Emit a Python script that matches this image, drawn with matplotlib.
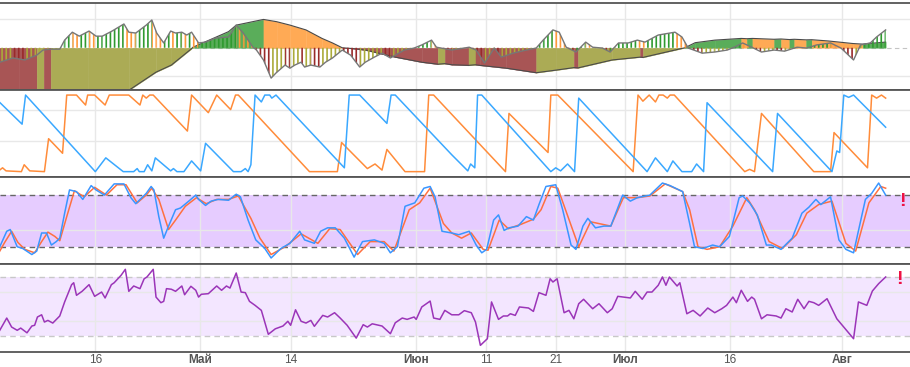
import numpy as np
import matplotlib
matplotlib.use("Agg")
import matplotlib.pyplot as plt

plt.rcParams["font.family"] = ["Liberation Sans", "DejaVu Sans"]
plt.rcParams["hatch.linewidth"] = 1.2

# x values are days counted from this date
BASE = np.datetime64("2019-04-01")
X_RANGE = ("2019-04-02T08", "2019-08-10T19")

TICK_DATES = ["2019-04-16", "2019-05-01", "2019-05-14", "2019-06-01", "2019-06-11",
              "2019-06-21", "2019-07-01", "2019-07-16", "2019-08-01"]
TICK_LABELS = ["16", "Май", "14", "Июн", "11", "21", "Июл", "16", "Авг"]
MONTHS = ["Май", "Июн", "Июл", "Авг"]

# panel 1: striped histogram and filled signal, (day, value)
HIST = [(1.3, -0.51), (3.2, -0.36), (4.9, -0.43), (6.6, -0.26), (7.5, -0.08), (8.5, -0.05),
        (9.9, -0.05), (10.6, 0.27), (11.7, 0.55), (12.7, 0.41), (14.1, 0.59), (15.1, 0.41),
        (16.0, 0.41), (17.4, 0.59), (19.1, 0.84), (19.8, 0.55), (20.8, 0.52), (22.3, 0.80),
        (23.1, 0.98), (23.8, 0.52), (24.8, 0.17), (25.8, 0.59), (26.5, 0.52), (27.4, 0.55),
        (28.1, 0.45), (28.8, 0.55), (29.8, 0.17), (30.8, 0.20), (32.2, 0.34), (34.1, 0.38),
        (35.2, 0.80), (36.2, 0.52), (37.6, 0.02), (38.1, -0.08), (39.1, -0.43), (40.2, -1.07),
        (40.9, -0.89), (42.2, -0.61), (42.9, -0.72), (43.6, -0.61), (44.5, -0.51), (45.0, -0.68),
        (45.9, -0.61), (47.2, -0.68), (48.0, -0.51), (49.0, -0.36), (50.4, -0.08), (51.6, -0.26),
        (52.9, -0.68), (53.7, -0.51), (55.0, -0.33), (56.1, -0.19), (57.3, -0.36), (58.0, -0.26),
        (59.3, -0.08), (60.7, -0.01), (61.8, 0.10), (63.2, 0.27), (63.9, 0.02), (66.1, -0.08),
        (68.6, 0.02), (69.6, -0.08), (70.8, -0.54), (72.2, -0.01), (73.2, -0.33), (74.9, -0.19),
        (76.8, -0.08), (78.2, -0.01), (79.2, 0.27), (80.6, 0.63), (81.5, 0.55), (82.5, 0.02),
        (83.9, -0.15), (85.3, 0.20), (86.3, 0.02), (87.7, -0.01), (88.8, -0.15), (90.0, 0.17),
        (91.4, 0.17), (92.7, 0.27), (93.8, 0.20), (95.7, 0.45), (98.1, 0.55), (99.1, 0.38),
        (100.0, -0.01), (102.0, -0.19), (103.8, -0.15), (105.6, -0.08), (106.6, 0.02),
        (107.8, 0.17), (109.1, 0.02), (110.5, -0.15), (112.3, -0.08), (113.8, -0.12),
        (115.6, 0.02), (117.0, -0.01), (118.4, 0.10), (120.4, 0.17), (121.9, -0.01),
        (123.7, -0.43), (124.7, 0.10), (126.1, 0.17), (127.0, 0.38), (128.3, 0.63)]

SIGNAL = [(1.0, -2.9), (4.0, -3.0), (6.6, -3.15), (7.6, -3.1), (8.6, -3.2), (14.0, -2.4),
          (19.8, -1.5), (23.7, -0.86), (25.9, -0.61), (28.7, -0.05), (29.0, 0.02), (34.1, 0.57),
          (35.2, 0.8), (39.1, 1.0), (41.0, 0.92), (42.9, 0.8), (45.2, 0.63), (47.5, 0.33),
          (49.0, 0.17), (50.4, 0.0), (51.5, -0.02), (53.7, -0.08), (58.0, -0.33), (61.8, -0.51),
          (64.1, -0.58), (65.1, -0.56), (66.1, -0.6), (68.5, -0.62), (69.5, -0.6), (70.1, -0.62),
          (73.9, -0.72), (78.2, -0.88), (81.0, -0.79), (83.6, -0.70), (84.2, -0.71), (89.1, -0.43),
          (93.1, -0.33), (93.5, -0.34), (98.1, -0.08), (99.5, 0.0), (101.0, 0.18), (103.8, 0.27),
          (107.6, 0.33), (108.4, 0.32), (109.2, 0.33), (112.3, 0.30), (113.3, 0.31), (114.5, 0.29),
          (115.2, 0.30), (116.9, 0.28), (117.7, 0.285), (120.1, 0.24), (123.6, 0.15), (125.0, 0.13),
          (125.8, 0.15), (128.3, 0.2)]

# panel 2: aroon up / down
AROON_UP = [(1, 0), (1.7, 5), (2.2, 1), (4.4, 0), (4.8, 9), (5.6, 1), (7.7, 0), (8.3, 43),
            (10.3, 24), (10.9, 100), (12.3, 100), (13.6, 87), (13.9, 100), (14.9, 100), (16.4, 87),
            (17, 100), (19.8, 100), (21.4, 87), (21.8, 100), (22.3, 96), (22.8, 100), (23.3, 100),
            (28.2, 53), (28.8, 100), (31.2, 77), (32.4, 100), (34.4, 81), (35.1, 100), (35.5, 100),
            (45.7, 0), (49.7, 0), (50.3, 38), (54.0, 4), (55.1, 10), (56.1, 2), (56.8, 29),
            (59.4, 0), (62.2, 0), (62.8, 100), (63.5, 100), (73.8, 0), (74.3, 76), (79.9, 25),
            (80.3, 100), (81.3, 100), (92.1, 0), (92.8, 100), (93.5, 92), (94.4, 100), (95.3, 91),
            (95.8, 100), (96.4, 100), (97.0, 96), (97.4, 100), (98.0, 100), (108.1, 0), (108.8, 3),
            (109.5, 0), (110.5, 76), (118.0, 0), (120.4, 0), (120.9, 51), (125.7, 5), (126.3, 100),
            (127.0, 96), (127.7, 100), (128.3, 96)]

AROON_DN = [(1.0, 93), (4.5, 62), (5.0, 100), (15.0, 0), (16.5, 18), (19.0, 0), (20.5, 0),
            (21.0, 4), (21.3, 0), (22.0, 0), (22.5, 9), (23.1, 1), (23.6, 18), (25.8, 1), (26.2, 4),
            (26.7, 0), (27.7, 0), (28.8, 14), (30.1, 1), (30.8, 37), (34.8, 0), (35.9, 0),
            (36.5, 4), (36.9, 0), (37.3, 9), (37.9, 100), (38.8, 91), (39.3, 100), (40.0, 100),
            (40.3, 96), (40.9, 100), (50.7, 5), (51.4, 100), (52.9, 100), (56.8, 63), (57.4, 100),
            (58.0, 100), (66.1, 22), (68.4, 1), (68.8, 10), (69.4, 5), (69.8, 100), (70.4, 100),
            (80.3, 0), (81.0, 5), (81.7, 1), (82.7, 10), (83.7, 0), (84.3, 96), (94.1, 0),
            (95.3, 18), (97.0, 0), (97.8, 14), (99.1, 0), (100.5, 0), (101.2, 10), (102.2, 0),
            (102.7, 90), (112.1, 0), (112.8, 76), (120.6, 0), (121.3, 27), (121.7, 25),
            (122.3, 100), (123.0, 97), (123.7, 100), (128.3, 58)]

# panel 3: stochastic %K / %D
STOCH_K = [(1.3, 20), (2.3, 38), (2.8, 40), (3.8, 20), (4.6, 18), (5.9, 11), (6.6, 15), (7.3, 36),
           (8.0, 36), (8.7, 22), (9.4, 26), (9.9, 30), (10.6, 59), (11.3, 86), (12.3, 84),
           (13.2, 75), (14.4, 91), (15.1, 86), (16.3, 80), (17.7, 93), (19.1, 93), (20.1, 77),
           (20.8, 70), (22.3, 82), (23.0, 90), (23.4, 86), (24.1, 55), (24.8, 30), (25.5, 44),
           (26.5, 63), (27.2, 65), (28.4, 73), (29.4, 80), (29.8, 75), (30.8, 68), (31.6, 73),
           (32.6, 75), (34.1, 74), (35.2, 81), (35.8, 78), (36.9, 51), (38.0, 28), (39.3, 18),
           (40.2, 7), (41.6, 18), (42.9, 24), (44.3, 38), (45.0, 28), (46.4, 24), (47.3, 38),
           (48.3, 42), (49.4, 42), (50.7, 30), (52.1, 8), (53.3, 26), (55.0, 28), (56.4, 24),
           (57.3, 13), (58.3, 20), (59.4, 67), (60.8, 71), (62.1, 88), (63.0, 90), (63.7, 78),
           (64.7, 38), (66.1, 36), (67.1, 34), (68.6, 38), (69.6, 22), (70.4, 13), (71.1, 17),
           (72.1, 51), (72.8, 57), (73.6, 39), (74.3, 42), (75.6, 44), (76.8, 55), (77.8, 51),
           (78.6, 69), (79.6, 90), (81.0, 92), (82.0, 63), (83.2, 22), (83.9, 17), (84.9, 44),
           (85.6, 53), (86.7, 42), (87.9, 44), (88.9, 44), (89.8, 63), (90.6, 80), (91.7, 73),
           (92.7, 77), (94.5, 80), (96.3, 94), (97.4, 91), (99.2, 84), (100.2, 47), (100.9, 20),
           (102.1, 18), (103.5, 22), (104.5, 20), (105.9, 32), (107.3, 77), (107.8, 79),
           (108.8, 71), (109.9, 57), (111.2, 22), (111.9, 22), (113.3, 17), (114.9, 30),
           (116.3, 59), (117.3, 66), (118.3, 75), (119.0, 69), (120.4, 78), (121.6, 28),
           (122.6, 17), (123.7, 13), (125.4, 75), (126.3, 82), (127.3, 94), (128.3, 80)]

STOCH_D = [(1.3, 15), (2.0, 25), (3.0, 38), (3.9, 25), (4.9, 17), (6.3, 13), (7.3, 26), (8.2, 37),
           (9.2, 32), (9.9, 27), (10.9, 55), (12.0, 85), (13.4, 78), (14.9, 89), (16.6, 80),
           (18.1, 92), (19.4, 92), (21.0, 71), (22.3, 80), (23.1, 88), (24.1, 75), (25.5, 40),
           (26.5, 51), (27.9, 67), (29.5, 77), (30.9, 70), (32.4, 75), (34.1, 75), (35.5, 79),
           (37.3, 53), (38.6, 30), (40.2, 11), (42.2, 20), (44.5, 35), (46.9, 24), (48.6, 41),
           (50.1, 40), (52.6, 11), (54.4, 26), (56.4, 26), (57.8, 15), (60.0, 63), (61.5, 71),
           (63.0, 88), (64.9, 47), (66.1, 36), (67.5, 30), (68.9, 36), (70.6, 17), (71.3, 16),
           (72.9, 51), (74.2, 41), (76.0, 46), (77.8, 52), (78.9, 63), (80.3, 90), (81.3, 88),
           (84.3, 20), (86.0, 49), (88.9, 44), (90.7, 77), (92.7, 77), (94.5, 79), (96.7, 93),
           (99.2, 84), (100.2, 63), (101.4, 20), (102.7, 17), (104.5, 20), (106.4, 44),
           (108.4, 77), (109.5, 63), (111.6, 26), (113.5, 18), (115.5, 34), (117.0, 59),
           (118.7, 69), (120.6, 73), (122.6, 24), (124.0, 15), (125.9, 71), (127.6, 90), (128.3, 88)]

# panel 4: rsi
RSI = [(1.3, 33.9), (2.3, 42.2), (3.0, 36.1), (3.8, 33.9), (4.3, 35.4), (5.2, 32.2), (5.9, 36.8),
       (6.3, 37.3), (6.7, 42.9), (7.3, 44.4), (7.7, 39.5), (8.2, 40.6), (8.9, 38.8), (9.5, 41.7),
       (9.9, 43.6), (10.6, 53.1), (11.6, 64.8), (11.9, 66.1), (12.3, 57.6), (13.1, 60.3),
       (14.1, 64.8), (14.9, 56.9), (15.9, 59.8), (16.4, 55.8), (17.3, 64.8), (17.7, 66.1),
       (18.7, 71.2), (19.3, 75.2), (19.8, 60.3), (20.5, 63.9), (21.4, 62.1), (22.0, 68.8),
       (22.4, 70.0), (23.3, 75.2), (23.7, 56.4), (24.4, 52.6), (24.8, 53.5), (25.2, 62.1),
       (25.9, 61.7), (26.5, 60.3), (27.4, 63.9), (27.8, 58.0), (28.7, 63.7), (29.4, 61.0),
       (29.8, 56.4), (30.2, 58.3), (31.2, 58.7), (32.4, 63.9), (33.1, 61.0), (33.8, 63.9),
       (34.3, 62.5), (35.2, 72.7), (35.9, 59.8), (36.5, 59.4), (37.1, 53.5), (37.9, 50.8),
       (38.8, 47.4), (39.8, 31.2), (40.8, 34.9), (41.9, 36.8), (42.6, 40.0), (43.0, 37.3),
       (43.7, 47.8), (44.5, 40.0), (45.2, 38.8), (45.9, 40.6), (46.4, 36.6), (47.6, 44.0),
       (48.3, 42.9), (49.3, 45.8), (50.1, 42.2), (51.1, 37.3), (52.4, 28.6), (53.4, 37.7),
       (54.0, 36.1), (54.7, 38.3), (56.1, 36.8), (57.3, 31.6), (58.0, 39.0), (59.0, 42.2),
       (59.7, 41.3), (60.7, 42.9), (61.0, 41.3), (61.8, 49.7), (63.0, 53.7), (63.5, 42.2),
       (64.4, 41.3), (65.1, 47.4), (66.1, 44.4), (67.1, 44.4), (67.9, 47.2), (68.9, 45.8),
       (69.5, 39.5), (70.2, 23.7), (71.2, 28.2), (71.8, 53.1), (72.8, 41.3), (73.5, 43.6),
       (74.1, 43.6), (74.5, 45.1), (75.2, 44.0), (75.8, 49.7), (77.1, 49.0), (77.8, 46.7),
       (78.6, 59.4), (79.6, 57.6), (80.2, 68.8), (80.6, 66.6), (81.2, 68.8), (82.2, 45.8),
       (82.9, 47.4), (83.6, 41.7), (84.3, 51.9), (85.0, 54.9), (86.3, 48.5), (87.2, 51.9),
       (88.4, 45.8), (89.1, 48.5), (89.9, 56.9), (91.7, 55.8), (92.4, 60.3), (93.4, 54.9),
       (94.1, 59.8), (94.8, 59.8), (95.7, 64.4), (96.3, 70.0), (96.8, 64.4), (97.3, 70.0),
       (98.4, 63.9), (98.8, 66.1), (99.8, 45.1), (100.7, 47.4), (101.7, 43.6), (102.8, 49.0),
       (103.8, 45.8), (104.8, 48.5), (105.5, 50.8), (106.4, 56.4), (106.9, 52.6), (107.6, 61.0),
       (108.5, 53.5), (109.1, 56.4), (109.5, 54.9), (110.5, 41.7), (111.3, 44.4), (112.6, 43.6),
       (113.3, 42.2), (114.0, 48.5), (114.9, 46.3), (115.7, 54.9), (116.6, 48.5), (117.3, 53.5),
       (118.0, 52.6), (118.7, 50.8), (119.9, 55.3), (121.3, 41.7), (122.3, 36.1), (123.7, 28.2),
       (124.4, 53.1), (125.6, 50.8), (126.4, 60.5), (127.3, 65.5), (128.3, 70.0)]


def day(s):
    return (np.datetime64(s, "h") - BASE) / np.timedelta64(1, "D")


def split(pairs):
    d, v = zip(*pairs)
    return np.array(d), np.array(v)


FILL_PAL = {"rise+": "#5aad5a", "fall+": "#ffaa55", "fall-": "#a85555", "rise-": "#abab55"}
HATCH_PAL = {"rise+": "#2f9a2f", "fall+": "#ff9a3a", "fall-": "#992a2a", "rise-": "#abab3a"}


def trend_key(v0, v1):
    side = "+" if (v0 + v1) >= 0 else "-"
    if side == "+":
        return ("rise" if v1 >= v0 else "fall") + side
    return ("fall" if v1 < v0 else "rise") + side


fig = plt.figure(figsize=(9.1, 3.67), dpi=100)
H = 367.0
bounds = [(3, 90), (90, 177), (177, 264), (264, 352)]
axes = [fig.add_axes([0, 1 - b / H, 1, (b - t) / H]) for t, b in bounds]

xlim = (day(X_RANGE[0]), day(X_RANGE[1]))
ticks = [day(t) for t in TICK_DATES]
for ax in axes:
    ax.set_xlim(*xlim)
    ax.set_xticks(ticks)
    ax.grid(True, color="#e8e8e8", lw=1)
    ax.set_axisbelow(True)
    ax.tick_params(length=0, labelleft=False, labelbottom=False)
    for side in ("left", "right"):
        ax.spines[side].set_visible(False)
    for side in ("top", "bottom"):
        ax.spines[side].set_color("#555555")
        ax.spines[side].set_linewidth(1.3)

# panel 1
ax = axes[0]
ax.set_ylim(-1.49, 1.58)
ax.set_yticks([-1, 1])
sd, sv = split(SIGNAL)
for i in range(len(sd) - 1):
    c = FILL_PAL[trend_key(sv[i], sv[i + 1])]
    ax.fill_between(sd[i:i + 2], 0, sv[i:i + 2], color=c, lw=0.3, zorder=1)
ax.plot(sd, sv, color="#4a4a4a", lw=0.8, zorder=2)
hd, hv = split(HIST)
for i in range(len(hd) - 1):
    c = HATCH_PAL[trend_key(hv[i], hv[i + 1])]
    ax.fill_between(hd[i:i + 2], 0, hv[i:i + 2], facecolor="none", edgecolor=c,
                    hatch="||||", lw=0, zorder=3)
ax.axhline(0, color="#c4c4c4", lw=0.8, ls=(0, (4, 3)), zorder=0.5)
ax.plot(hd, hv, color="#777777", lw=1.0, zorder=4)

# panel 2
ax = axes[1]
ax.set_ylim(-7, 106.6)
ax.set_yticks([40, 80])
ax.plot(*split(AROON_UP), color="#ff8c3a", lw=1.1)
ax.plot(*split(AROON_DN), color="#3aa8ff", lw=1.1)

# panel 3
ax = axes[2]
ax.set_ylim(0, 101)
ax.set_yticks([40])
ax.axhspan(20, 80, color="#e6ccff", lw=0, zorder=0)
for lvl in (20, 80):
    ax.axhline(lvl, color="#666666", lw=1, ls=(0, (4, 3)))
ax.plot(*split(STOCH_D), color="#ff7040", lw=1.1, zorder=3)
ax.plot(*split(STOCH_K), color="#3a96ff", lw=1.1, zorder=4)
ax.text(0.992, 0.72, "!", transform=ax.transAxes, color="#ee1144", fontsize=14,
        fontweight="bold", ha="center", va="center")

# panel 4
ax = axes[3]
ax.set_ylim(19.2, 78.8)
ax.set_yticks([40, 60])
ax.axhspan(30, 70, color="#f3e6ff", lw=0, zorder=0)
for lvl in (30, 70):
    ax.axhline(lvl, color="#c8c8c8", lw=1, ls=(0, (4, 3)))
ax.plot(*split(RSI), color="#9b35b8", lw=1.1, zorder=3)
ax.text(0.988, 0.82, "!", transform=ax.transAxes, color="#ee1144", fontsize=14,
        fontweight="bold", ha="center", va="center")

ax.tick_params(labelbottom=True, pad=1.5, labelsize=8.5, labelcolor="#555555")
ax.set_xticklabels(TICK_LABELS)
for lab in ax.get_xticklabels():
    if lab.get_text() in MONTHS:
        lab.set_fontweight("bold")

fig.savefig("out.png", dpi=100)
